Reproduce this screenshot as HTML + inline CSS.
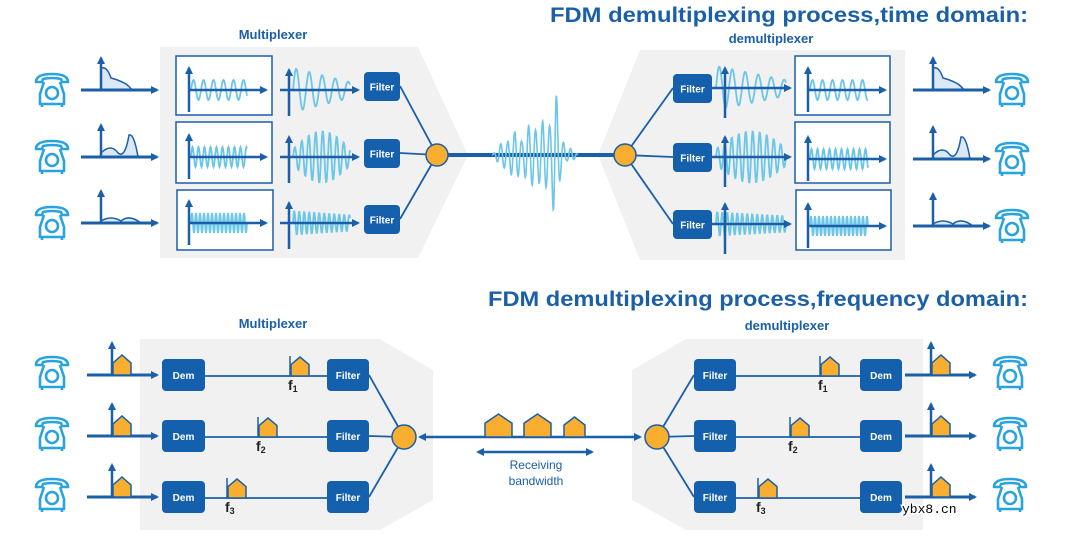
<!DOCTYPE html>
<html><head><meta charset="utf-8"><style>
html,body{margin:0;padding:0;background:#fff;width:1080px;height:540px;overflow:hidden}
svg{display:block}
</style></head><body>
<svg id="s" width="1080" height="540" xmlns="http://www.w3.org/2000/svg" font-family="Liberation Sans, sans-serif">
<defs>
<marker id="ah" markerWidth="8" markerHeight="8" refX="6" refY="4" orient="auto" markerUnits="userSpaceOnUse"><path d="M0,0 L8,4 L0,8 z" fill="#1a5fa8"/></marker>
<marker id="ahs" markerWidth="8" markerHeight="8" refX="6" refY="4" orient="auto-start-reverse" markerUnits="userSpaceOnUse"><path d="M0,0 L8,4 L0,8 z" fill="#1a5fa8"/></marker>
<g id="phone" fill="none" stroke="#29a3e0" stroke-width="2.6" stroke-linejoin="round">
<path d="M2,10 Q2,2 18,2 Q34,2 34,10 L28,10 L27,7 Q18,5 9,7 L8,10 Z"/>
<path d="M10,10 L6,22 L6,32 L30,32 L30,22 L26,10"/>
<circle cx="18" cy="21" r="6"/>
<path d="M8,32 L8,35 M28,32 L28,35"/>
</g>
</defs>
<path d="M160,47 L418,47 L468,155 L418,258 L160,258 Z" fill="#f1f1f1"/>
<path d="M598,155 L640,50 L905,50 L905,260 L640,260 Z" fill="#f1f1f1"/>
<path d="M140,339 L380,339 L433,370 L433,500 L380,530 L140,530 Z" fill="#f1f1f1"/>
<path d="M632,370 L686,339 L923,339 L923,530 L686,530 L632,500 Z" fill="#f1f1f1"/>
<g fill="#1a5fa8" font-weight="bold">
<text x="1028" y="22" font-size="21" text-anchor="end" textLength="478" lengthAdjust="spacingAndGlyphs">FDM demultiplexing process,time domain:</text>
<text x="273" y="39" font-size="13" text-anchor="middle">Multiplexer</text>
<text x="771" y="43" font-size="13" text-anchor="middle">demultiplexer</text>
<text x="1028" y="306" font-size="21" text-anchor="end" textLength="540" lengthAdjust="spacingAndGlyphs">FDM demultiplexing process,frequency domain:</text>
<text x="273" y="328" font-size="13" text-anchor="middle">Multiplexer</text>
<text x="787" y="330" font-size="13" text-anchor="middle">demultiplexer</text>
<text x="536" y="469" font-size="12" font-weight="normal" text-anchor="middle">Receiving</text>
<text x="536" y="485" font-size="12" font-weight="normal" text-anchor="middle">bandwidth</text>
</g>
<g id="dyn"></g>
<text x="902" y="513" font-family="Liberation Mono, monospace" font-size="13" fill="#000" style="paint-order:stroke" stroke="#fff" stroke-width="3">ybx8.cn</text>
</svg>
<script>
var g=document.getElementById("dyn");
var out="",late="";
var B="#1a5fa8",LB="#6cc6e8",OR="#f9ae2f";
function line(x1,y1,x2,y2,w,arrow,c){out+='<line x1="'+x1+'" y1="'+y1+'" x2="'+x2+'" y2="'+y2+'" stroke="'+(c||B)+'" stroke-width="'+(w||2)+'"'+(arrow?' marker-end="url(#ah)"':'')+'/>';}
function phone(x,y){out+='<use href="#phone" x="'+x+'" y="'+y+'"/>';}
function rect(x,y,w,h,t){out+='<rect x="'+x+'" y="'+y+'" width="'+w+'" height="'+h+'" rx="4" fill="#1560ad"/><text x="'+(x+w/2)+'" y="'+(y+h/2+4)+'" font-size="10" font-weight="bold" fill="#fff" text-anchor="middle">'+t+'</text>';}
function circ(x,y,r){late+='<circle cx="'+x+'" cy="'+y+'" r="'+r+'" fill="'+OR+'" stroke="'+B+'" stroke-width="1.5"/>';}
function wave(x0,x1,y,per,ampf){var d="";for(var x=x0;x<=x1;x+=0.5){var t=(x-x0)/(x1-x0);var yy=y-ampf(t)*Math.sin((x-x0)/per*2*Math.PI);d+=(d?"L":"M")+x.toFixed(1)+","+yy.toFixed(1);}out+='<path d="'+d+'" fill="none" stroke="'+LB+'" stroke-width="1.8"/>';}
function spec(x,y,len,pts){
 out+='<path d="'+pts+'" fill="#dce8f6" stroke="'+B+'" stroke-width="1.5"/>';
 line(x-20,y,x-20+len,y,3,1);line(x,y,x,y-32,2.5,1);}
function house(x,y,w,h){out+='<path d="M'+x+','+y+' L'+x+','+(y-h*0.6)+' L'+(x+w/2)+','+(y-h)+' L'+(x+w)+','+(y-h*0.6)+' L'+(x+w)+','+y+' Z" fill="'+OR+'" stroke="'+B+'" stroke-width="1.5"/>';}
function fspec(x,y){line(x-26,y,x+44,y,3,1);line(x,y,x,y-32,2.5,1);house(x+1,y,18,20);}
function tag(x,y,n){line(x,y,x,y-20,1.5);house(x+1,y,18,19);out+='<text x="'+(x-2)+'" y="'+(y+14)+'" font-size="14" font-weight="bold" fill="#222">f<tspan font-size="9" dy="2">'+n+'</tspan></text>';}
var rows=[88,155,221];
var specs=[
function(x,y){return "M"+x+","+y+" L"+x+","+(y-22)+" Q"+(x+6)+","+(y-24)+" "+(x+10)+","+(y-12)+" Q"+(x+18)+","+(y-10)+" "+(x+25)+","+(y-6)+" Q"+(x+30)+","+(y-2)+" "+(x+31)+","+y+" Z";},
function(x,y){return "M"+x+","+y+" L"+x+","+(y-4)+" Q"+(x+10)+","+(y-14)+" "+(x+17)+","+(y-4)+" Q"+(x+24)+","+(y+2)+" "+(x+28)+","+(y-22)+" Q"+(x+33)+","+(y-24)+" "+(x+37)+","+y+" Z";},
function(x,y){return "M"+x+","+y+" L"+x+","+(y-2)+" Q"+(x+10)+","+(y-8)+" "+(x+20)+","+(y-2)+" Q"+(x+28)+","+(y-9)+" "+(x+40)+","+y+" Z";}];
var pers=[10,6,4];
var boxes=[[176,56,96,59],[176,122,96,61],[177,190,96,60]];
function env(k){return function(t){return [22-14*t,8+18*Math.sin(t*3.1),12-4*t][k];};}
for(var i=0;i<3;i++){var y=rows[i];
 phone(34,y-16);
 spec(101,y+2,76,specs[i](101,y+2));
 var b=boxes[i];out+='<rect x="'+b[0]+'" y="'+b[1]+'" width="'+b[2]+'" height="'+b[3]+'" fill="#fff" stroke="'+B+'" stroke-width="1.5"/>';
 wave(191,247,y+2,pers[i],function(){return 10;});
 line(190,y+2,266,y+2,2.5,1);line(189,y+24,189,y-20,2.5,1);
 wave(293,350,y+2,[13,7,5][i],env(i));
 line(280,y+2,358,y+2,2.5,1);line(289,y+28,289,y-18,2.5,1);
 rect(364,y-16,36,29,"Filter");
 line(400,y-2,437,155,1.8);
}
line(437,155,625,155,4);
(function(){var d="";for(var x=492;x<=578;x+=0.3){var t=x-492;
 var e=Math.sin(t/86*Math.PI);
 var a=e*(14+12*Math.abs(Math.sin(t*0.21))+10*Math.abs(Math.sin(t*0.07+1)))+45*Math.exp(-Math.pow((x-555)/3.5,2));
 var yy=155-a*Math.sin(t*0.9);d+=(d?"L":"M")+x.toFixed(1)+","+yy.toFixed(1);}
 out+='<path d="'+d+'" fill="none" stroke="'+LB+'" stroke-width="1.6"/>';})();
circ(437,155,11);circ(625,155,11);
var rrows=[88,157,224];
var rboxes=[[795,56,95,59],[795,122,95,61],[796,190,95,60]];
for(var i=0;i<3;i++){var y=rrows[i];
 line(625,155,673,y,1.8);
 rect(673,y-14,39,29,"Filter");
 wave(716,786,y,[13,7,5][i],env(i));
 line(712,y,790,y,2.5,1);line(725,y+30,725,y-20,2.5,1);
 var b=rboxes[i];out+='<rect x="'+b[0]+'" y="'+b[1]+'" width="'+b[2]+'" height="'+b[3]+'" fill="#fff" stroke="'+B+'" stroke-width="1.5"/>';
 wave(810,868,y+2,pers[i],function(){return 10;});
 line(809,y+2,885,y+2,2.5,1);line(808,y+24,808,y-20,2.5,1);
 spec(933,y+2,76,specs[i](933,y+2));
 phone(994,y-16);
}
var brows=[375,436,497];
var tags=[290,258,227];
for(var i=0;i<3;i++){var y=brows[i];
 phone(34,y-20);
 line(87,y,157,y,3,1);line(112,y,112,y-32,2.5,1);house(113,y,18,20);
 rect(162,y-16,43,32,"Dem");
 line(205,y+1,327,y+1,1.8);
 tag(tags[i],y+1,i+1);
 rect(327,y-16,42,32,"Filter");
 line(369,y,404,437,1.8);
}
circ(404,437,12);
out+='<line x1="420" y1="437" x2="640" y2="437" stroke="'+B+'" stroke-width="2.5" marker-start="url(#ahs)" marker-end="url(#ah)"/>';
house(485,437,27,23);house(524,437,27,23);house(564,437,21,20);
out+='<line x1="478" y1="452" x2="592" y2="452" stroke="'+B+'" stroke-width="2.5" marker-start="url(#ahs)" marker-end="url(#ah)"/>';
circ(657,437,12);
var rtags=[820,790,758];
for(var i=0;i<3;i++){var y=brows[i];
 line(657,437,694,y,1.8);
 rect(694,y-16,42,32,"Filter");
 line(736,y+1,860,y+1,1.8);
 tag(rtags[i],y+1,i+1);
 rect(860,y-16,42,32,"Dem");
 fspec(931,y);
 phone(992,y-20);
}
g.innerHTML=out+late;
</script>
</body></html>
